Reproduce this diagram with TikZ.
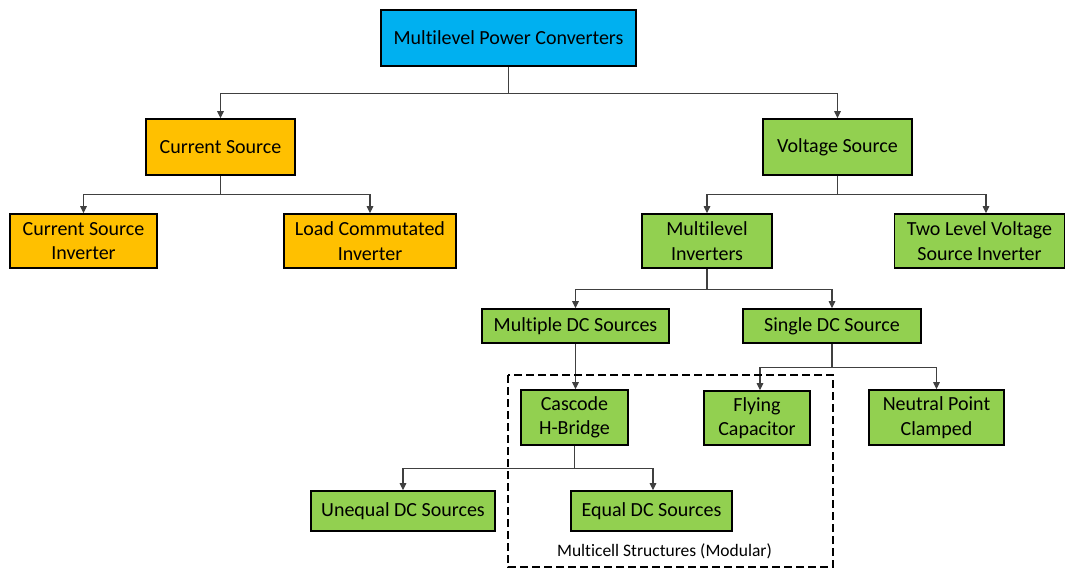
\documentclass[tikz,border=0pt]{standalone}
\usepackage{fontspec}
\setmainfont{Carlito}[Ligatures={NoCommon}]
\usetikzlibrary{arrows.meta}
\definecolor{topblue}{HTML}{00B0F0}
\definecolor{csorange}{HTML}{FFC000}
\definecolor{vsgreen}{HTML}{92D050}
\begin{document}
\begin{tikzpicture}[x=1pt,y=-1pt,>={Triangle[length=7pt,width=6.5pt]},
		box/.style={draw=black,line width=1.6pt,inner sep=0pt,align=center,font=\fontsize{20}{24.5}\selectfont},
		link/.style={->,draw=black!75,line width=1.1pt}]
		\useasboundingbox (0,0) rectangle (1070,570);
		% top level
		\node[box,fill=topblue,minimum width=255pt,minimum height=56pt] (mpc) at (508.5,38) {Multilevel Power Converters};
		% current source branch
		\node[box,fill=csorange,minimum width=149pt,minimum height=56pt] (cs) at (220.5,147) {Current Source};
		\node[box,fill=csorange,minimum width=147pt,minimum height=54pt] (csi) at (83.5,241) {Current Source\\Inverter};
		\node[box,fill=csorange,minimum width=172pt,minimum height=54pt] (lci) at (370,241) {Load Commutated\\Inverter};
		% voltage source branch
		\node[box,fill=vsgreen,minimum width=149pt,minimum height=56pt] (vs) at (837.5,147) {Voltage Source};
		\node[box,fill=vsgreen,minimum width=130pt,minimum height=54pt] (mli) at (707,241) {Multilevel\\Inverters};
		\node[box,fill=vsgreen,minimum width=170pt,minimum height=54pt] (tlv) at (979.5,241) {Two Level Voltage\\Source Inverter};
		\node[box,fill=vsgreen,minimum width=187pt,minimum height=34pt] (mdc) at (575.5,326) {Multiple DC Sources};
		\node[box,fill=vsgreen,minimum width=178pt,minimum height=34pt] (sdc) at (832,326) {Single DC Source};
		\node[box,fill=vsgreen,minimum width=107pt,minimum height=55pt] (chb) at (574.5,417.5) {Cascode\\H-Bridge};
		\node[box,fill=vsgreen,minimum width=106pt,minimum height=54pt] (fc) at (757,418) {Flying\\Capacitor};
		\node[box,fill=vsgreen,minimum width=135pt,minimum height=55pt] (npc) at (936.5,417.5) {Neutral Point\\Clamped};
		\node[box,fill=vsgreen,minimum width=184pt,minimum height=40pt] (udc) at (403,511) {Unequal DC Sources};
		\node[box,fill=vsgreen,minimum width=161pt,minimum height=40pt] (edc) at (651.5,511) {Equal DC Sources};
		% connectors
		\draw[link] (mpc.south) -- ++(0,27) -| (cs.north);
		\draw[link] (mpc.south) -- ++(0,27) -| (vs.north);
		\draw[link] (cs.south) -- ++(0,19) -| (csi.north);
		\draw[link] (cs.south) -- ++(0,19) -| (lci.north);
		\draw[link] (vs.south) -- ++(0,19) -| (mli.north);
		\draw[link] (vs.south) -- ++(0,19) -| ([xshift=6.5pt]tlv.north);
		\draw[link] (mli.south) -- ++(0,21) -| (mdc.north);
		\draw[link] (mli.south) -- ++(0,21) -| (sdc.north);
		\draw[link] (mdc.south) -- (mdc.south |- chb.north);
		\draw[link] (sdc.south) -- ++(0,24) -| ([xshift=3pt]fc.north);
		\draw[link] (sdc.south) -- ++(0,24) -| (npc.north);
		\draw[link] (chb.south) -- ++(0,23) -| (udc.north);
		\draw[link] (chb.south) -- ++(0,23) -| ([xshift=1.5pt]edc.north);
		% multicell group
		\draw[line width=2.6pt,dash pattern=on 8pt off 4pt] (508,375) rectangle (833,567);
		\node[font=\fontsize{17.5}{20}\selectfont] (mcs) at (664.5,551) {Multicell Structures (Modular)};
\end{tikzpicture}
\end{document}
